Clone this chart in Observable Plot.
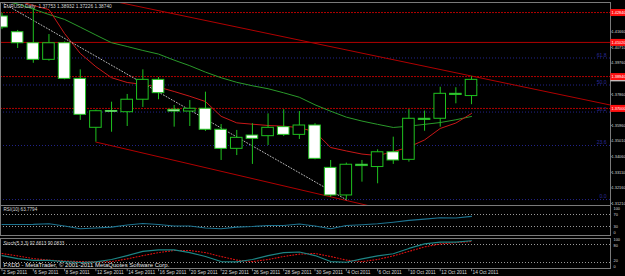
<!DOCTYPE html>
<html><head><meta charset="utf-8">
<script src="https://cdn.jsdelivr.net/npm/d3@7"></script>
<script src="https://cdn.jsdelivr.net/npm/@observablehq/plot@0.6"></script>
<style>
html,body{margin:0;padding:0;background:#000;overflow:hidden;}
#chart{position:relative;width:625px;height:276px;background:#000;overflow:hidden;}
#chart svg{position:absolute;left:0;overflow:visible;background:transparent;max-width:none;}
</style></head><body><div id="chart"></div>
<script>
// ---- data ----
const dateLabels = ["2 Sep 2011","6 Sep 2011","8 Sep 2011","12 Sep 2011","14 Sep 2011","16 Sep 2011","20 Sep 2011","22 Sep 2011","26 Sep 2011","28 Sep 2011","30 Sep 2011","4 Oct 2011","6 Oct 2011","10 Oct 2011","12 Oct 2011","14 Oct 2011"];
const dateLabelBars = [0,2,4,6,8,10,12,14,16,18,20,22,24,26,28,30];
const opens  = [1.4260,1.4164,1.4097,1.3996,1.4097,1.3880,1.3582,1.3681,1.3677,1.3753,1.3874,1.3692,1.3681,1.3698,1.3570,1.3454,1.3535,1.3531,1.3586,1.3539,1.3596,1.3338,1.3170,1.3357,1.3343,1.3433,1.3387,1.3637,1.3637,1.3789,1.37753];
const highs  = [1.4280,1.4175,1.4310,1.4150,1.4105,1.3935,1.3690,1.3738,1.3785,1.3935,1.3888,1.3718,1.3748,1.3799,1.3602,1.3566,1.3607,1.3667,1.3692,1.3681,1.3607,1.3383,1.3367,1.3383,1.3448,1.3525,1.3693,1.3684,1.3829,1.3826,1.38932];
const lows   = [1.4180,1.4065,1.3975,1.3988,1.3874,1.3627,1.3495,1.3555,1.3590,1.3706,1.3753,1.3586,1.3590,1.3560,1.3383,1.3413,1.3359,1.3474,1.3529,1.3511,1.3387,1.3159,1.3144,1.3251,1.3241,1.3359,1.3373,1.3561,1.3586,1.3728,1.37226];
const closes = [1.4193,1.4097,1.3996,1.4097,1.3880,1.3661,1.3683,1.3684,1.3753,1.3874,1.3793,1.3681,1.3698,1.3570,1.3454,1.3521,1.3515,1.3582,1.3539,1.3596,1.3393,1.3170,1.3357,1.3349,1.3433,1.3383,1.3637,1.3630,1.3789,1.3782,1.38740];
const maFast = [1.4381,1.4357,1.4327,1.4302,1.4156,1.4035,1.3954,1.3887,1.3858,1.3846,1.3830,1.3803,1.3774,1.3742,1.3652,1.3612,1.3604,1.3596,1.3592,1.3583,1.3557,1.3462,1.3441,1.3422,1.3413,1.3436,1.3465,1.3508,1.3578,1.3611,1.3669];
const maSlow = [1.4357,1.4336,1.4305,1.4272,1.4242,1.4195,1.4147,1.4100,1.4077,1.4053,1.4031,1.3994,1.3960,1.3921,1.3887,1.3859,1.3838,1.3820,1.3795,1.3768,1.3722,1.3683,1.3647,1.3623,1.3603,1.3584,1.3592,1.3603,1.3614,1.3631,1.3651];
const rsi = [36.7,36.7,37,39,31.7,22.3,25,28,35,40,36.7,31.7,31.7,25,22.3,28,30,33.3,33.3,38.3,31.7,22.3,33.3,36,39,44.3,50.3,54.7,59,58.3,63.7794];
const stochMain   = [43,33,27,27,23,20,22,30,43,57,62,62,53,40,23,22,30,43,53,55,43,23,21,32,42,49,67,82,88,88,92.6613];
const stochSignal = [50,42,33,28,25,23,22,23,32,43,53,60,60,53,40,28,23,30,40,48,50,40,28,23,30,42,57,72,82,86,90.0833];
const zigzagBars = [0, 22];
const zigzagPrices = [1.4345, 1.3144];
const channelUpperBars = [5, 38.9];
const channelUpperPrices = [1.4395, 1.3720];
const channelLowerBars = [6, 24];
const channelLowerPrices = [1.3495, 1.3095];
const solidLevels = [1.4102];
const dottedLevels = [1.4284, 1.3894, 1.3700];
const fibLow = 1.3145, fibHigh = 1.4540;
const fibRatios = [0, 0.236, 0.382, 0.5, 0.618];
const fibLabels = ["0.0","23.6","38.2","50.0","61.8"];
const priceTicks = [1.31210,1.32160,1.33110,1.34060,1.35010,1.35960,1.37860,1.39760,1.40710,1.41660];
const bidPrice = 1.38740;
const rsiLevels = [70, 30];
const rsiTicks = [100, 70, 30, 0];
const stochLevels = [80, 20];
const stochTicks = [100, 80, 20, 0];
const titleText = "EURUSD,Daily  1.37753 1.38932 1.37226 1.38740";
const rsiTitle = "RSI(10) 63.7794";
const stochTitle = "Stoch(5,3,3) 92.6613 90.0833";
const footer = "FXDD - MetaTrader, © 2001-2011 MetaQuotes Software Corp.";

// ---- build ----
const LIME = "#1fc21f", AX = "#7a7a7a", TXT = "#d8d8d8", FONT = "Liberation Sans, Arial, sans-serif";
const LAB = 3.9;
const xDom = [-0.0958, 38.88];
const candles = opens.map((o, i) => ({i, o, h: highs[i], l: lows[i], c: closes[i]}));
const series = arr => arr.map((v, i) => ({i, v}));
const pairs = (a, b) => a.map((x, k) => ({i: x, v: b[k]}));
const fibs = fibRatios.map((r, k) => ({v: fibLow + r * (fibHigh - fibLow), label: fibLabels[k]}));
const allLevels = dottedLevels.concat(solidLevels);
const base = {width: 625, marginLeft: 0, marginRight: 15, x: {domain: xDom, axis: null},
  style: {background: "transparent", fontFamily: FONT, overflow: "visible"}};
const chart = document.getElementById("chart");
function place(svg, top) { svg.style.top = top + "px"; chart.appendChild(svg); }
// one text mark per side label so each can be nudged inside its panel
function sideTicks(ticks, nudges) {
  return ticks.map((t, k) => Plot.text([t], {y: d => d, text: d => String(d), frameAnchor: "right",
    textAnchor: "start", dx: 3, dy: nudges[k], fill: TXT, fontSize: LAB}));
}

const main = Plot.plot({...base, height: 206, marginTop: 2, marginBottom: 1,
  y: {domain: [1.31088, 1.43451], axis: null},
  marks: [
    Plot.ruleY(fibs, {y: "v", stroke: "#23238a", strokeDasharray: "1,2"}),
    Plot.text(fibs, {y: "v", text: "label", frameAnchor: "right", textAnchor: "end", dx: -4, dy: -3, fill: "#2a2a9a", fontSize: 5}),
    Plot.ruleY(dottedLevels, {y: d => d, stroke: "#b00000", strokeDasharray: "2,1"}),
    Plot.ruleY(solidLevels, {y: d => d, stroke: "#b00000"}),
    Plot.line(pairs(channelUpperBars, channelUpperPrices), {x: "i", y: "v", stroke: "#b00000", strokeWidth: 1, clip: true}),
    Plot.line(pairs(channelLowerBars, channelLowerPrices), {x: "i", y: "v", stroke: "#b00000", strokeWidth: 1, clip: true}),
    Plot.line(series(maSlow), {x: "i", y: "v", stroke: "#2a9a2a", strokeWidth: 1, clip: true}),
    Plot.line(series(maFast), {x: "i", y: "v", stroke: "#c81818", strokeWidth: 1, clip: true}),
    Plot.line(pairs(zigzagBars, zigzagPrices), {x: "i", y: "v", stroke: "#b8b8b8", strokeWidth: 1, strokeDasharray: "1,2", clip: true}),
    Plot.ruleX(candles, {x: "i", y1: "l", y2: "h", stroke: LIME, clip: true}),
    Plot.rect(candles, {x1: d => d.i - 0.37, x2: d => d.i + 0.37, y1: "o", y2: "c",
      fill: d => d.c >= d.o ? "#000" : "#fff", stroke: LIME, clip: true}),
    Plot.ruleY(candles.filter(d => Math.abs(d.c - d.o) < 0.0004), {y: "c", x1: d => d.i - 0.37, x2: d => d.i + 0.37, stroke: d => d.c >= d.o ? "#9dff9d" : "#fff"}),
    Plot.frame({stroke: AX}),
    Plot.ruleY(priceTicks, {y: d => d, x1: 38.88, x2: 39.0, stroke: AX}),
    Plot.text(priceTicks, {y: d => d, text: d => d.toFixed(5), frameAnchor: "right", textAnchor: "start", dx: 1, fill: TXT, fontSize: LAB}),
    Plot.ruleY([bidPrice], {y: d => d, x1: 38.9, x2: 40.2, stroke: "#c8c8c8", strokeWidth: 3}),
    Plot.ruleY(allLevels, {y: d => d, x1: 38.9, x2: 40.2, stroke: "#ff1010", strokeWidth: 7}),
    Plot.text(allLevels, {y: d => d, text: d => d.toFixed(5), frameAnchor: "right", textAnchor: "start", dx: 1, fill: "#fff", fontSize: LAB}),
    Plot.text([titleText], {text: d => d, frameAnchor: "top-left", dx: 3, dy: 2, fill: TXT, fontSize: 4.8})
  ]});
place(main, 0);

const rsiPlot = Plot.plot({...base, height: 31, marginTop: 0, marginBottom: 1,
  y: {domain: [0, 100], axis: null},
  marks: [
    Plot.ruleY(rsiLevels, {y: d => d, stroke: "#9a9a9a", strokeDasharray: "1,2"}),
    Plot.line(series(rsi), {x: "i", y: "v", stroke: "#1d7390", strokeWidth: 1.1}),
    Plot.frame({stroke: AX}),
    ...sideTicks(rsiTicks, [3, 0, 0, -3]),
    Plot.text([rsiTitle], {text: d => d, frameAnchor: "top-left", dx: 3, dy: 2, fill: TXT, fontSize: 4.6})
  ]});
place(rsiPlot, 205);

const stPlot = Plot.plot({...base, height: 31, marginTop: 1, marginBottom: 0,
  y: {domain: [0, 100], axis: null},
  marks: [
    Plot.ruleY(stochLevels, {y: d => d, stroke: "#9a9a9a", strokeDasharray: "1,2"}),
    Plot.line(series(stochSignal), {x: "i", y: "v", stroke: "#e01010", strokeDasharray: "1,2", strokeWidth: 1.1}),
    Plot.line(series(stochMain), {x: "i", y: "v", stroke: "#1d8585", strokeWidth: 1.1}),
    Plot.frame({stroke: AX}),
    ...sideTicks(stochTicks, [1.5, 1.5, -1.5, -2]),
    Plot.text([stochTitle], {text: d => d, frameAnchor: "top-left", dx: 3, dy: 3, fill: TXT, fontSize: 4.6}),
    Plot.text([footer], {text: d => d, frameAnchor: "bottom-left", dx: 3, dy: -2, fill: "#e8e8e8", fontSize: 6})
  ]});
place(stPlot, 237);

const dateAxis = Plot.plot({...base, height: 8, marginTop: 0, marginBottom: 0,
  y: {domain: [0, 1], axis: null},
  marks: [
    Plot.ruleX(dateLabelBars, {x: d => d, y1: 1, y2: 0.6, stroke: AX}),
    Plot.text(dateLabelBars.map((b, k) => ({b, t: dateLabels[k]})), {x: "b", text: "t", frameAnchor: "middle", textAnchor: "start", dx: 1, fill: TXT, fontSize: 4.8})
  ]});
place(dateAxis, 268);
</script></body></html>
